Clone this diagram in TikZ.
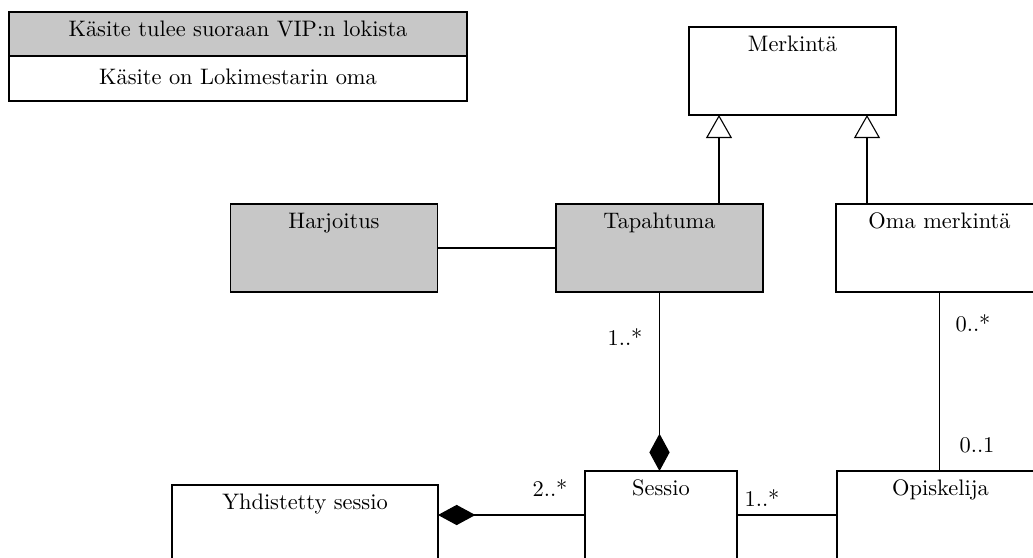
\documentclass[tikz,border=0pt]{standalone}
\usetikzlibrary{arrows.meta}
\usetikzlibrary{positioning}

\tikzset{
  luokka/.style={draw, line width=0.8pt, minimum width=94.2pt, minimum height=40pt, inner sep=0pt, outer sep=0pt},
  vip/.style={luokka, fill={rgb, 255:red, 199; green, 199; blue, 199 }},
  otsikko/.style={anchor=base, inner sep=0pt, yshift=-11.2pt, font=\fontsize{10.2pt}{12pt}\selectfont},
  yhteys/.style={line width=0.5pt},
  periytyy/.style={yhteys, -{Triangle[open, length=10.5pt, width=11.8pt]}},
  kooste/.style={yhteys, -{Diamond[length=17pt, width=9.2pt]}},
  lkm/.style={inner sep=0pt, font=\fontsize{10.2pt}{12pt}\selectfont}
}

\begin{document}
\begin{tikzpicture}[x=0.455pt,y=0.455pt,yscale=-1,xscale=1]
\useasboundingbox (0,0) rectangle (1033,557);
\clip (0,0) rectangle (1033,557);

%Shape: Legend
\node [vip, minimum width=208.4pt, minimum height=20pt, label={[otsikko]north:K\"asite tulee suoraan VIP:n lokista}] (selite1) at (238,34) {};
\node [luokka, minimum width=208.4pt, minimum height=20.5pt, anchor=north, label={[otsikko, yshift=-2pt]north:K\"asite on Lokimestarin oma}] (selite2) at (selite1.south) {};

%Shape: Classes
\node [luokka, label={[otsikko]north:Merkint\"a}] (merkinta) at (792.5,71) {};
\node [vip, label={[otsikko]north:Harjoitus}] (harjoitus) at (334,248) {};
\node [vip, label={[otsikko]north:Tapahtuma}] (tapahtuma) at (659.5,248) {};
\node [luokka, label={[otsikko]north:Oma merkint\"a}] (oma) at (939.5,248) {};
\node [luokka, minimum width=69.2pt, label={[otsikko]north:Sessio}] (sessio) at (661,515) {};
\node [luokka, label={[otsikko]north:Opiskelija}] (opiskelija) at (940.5,515) {};
\node [luokka, minimum width=121pt, label={[otsikko]north:Yhdistetty sessio}] (yhdistetty) at (305,529) {};

%Straight Lines
\coordinate (g1) at (719,204);
\coordinate (g2) at (867,204);
\draw [periytyy] (g1) -- (g1 |- merkinta.south);
\draw [periytyy] (g2) -- (g2 |- merkinta.south);
\draw [yhteys] (harjoitus.east) -- (tapahtuma.west);
\draw [kooste] (tapahtuma.south) -- (tapahtuma.south |- sessio.north);
\draw [kooste] (sessio.west) -- (sessio.west -| yhdistetty.east);
\draw [yhteys] (sessio.east) -- (opiskelija.west);
\draw [yhteys] (oma.south) -- (oma.south |- opiskelija.north);

% Text Node
\node [lkm] (m1) at (625,337) {1..*};
\node [lkm] (m2) at (973,323) {0..*};
\node [lkm] (m3) at (977,445) {0..1};
\node [lkm] (m4) at (550,488) {2..*};
\node [lkm] (m5) at (762,498) {1..*};

\end{tikzpicture}
\end{document}
